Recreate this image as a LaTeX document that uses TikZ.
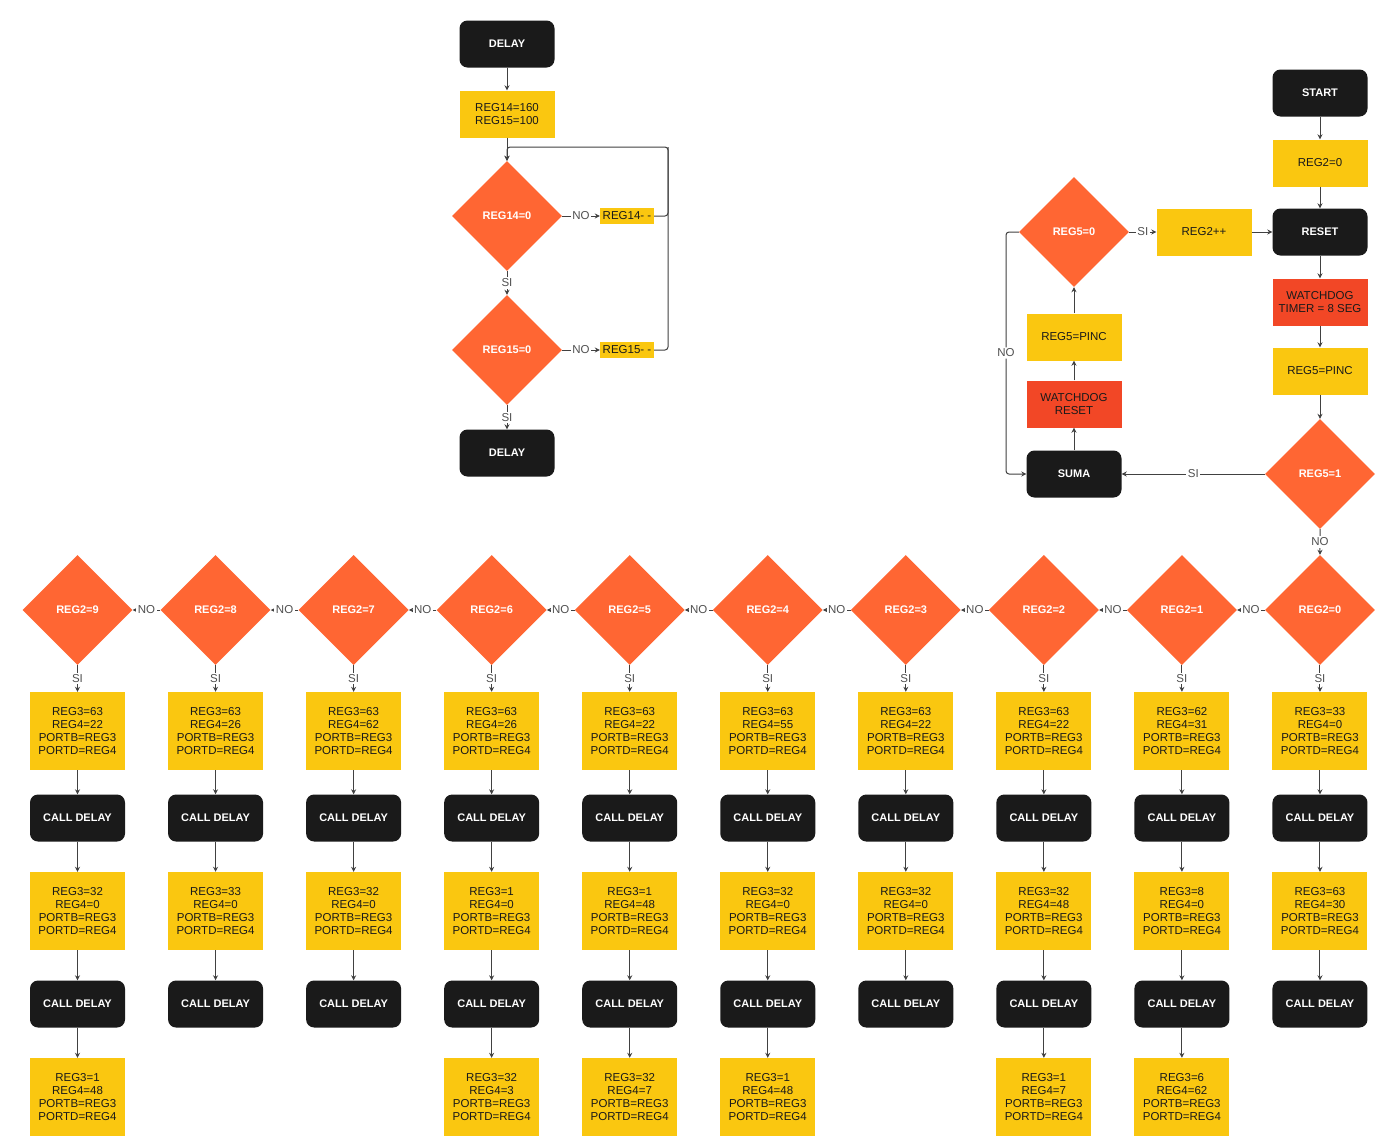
\documentclass[tikz,border=0pt]{standalone}
\usepackage{fontspec}
\setmainfont{Liberation Sans}
\usetikzlibrary{shapes.geometric,arrows.meta}
\definecolor{boxyellow}{HTML}{FAC710}
\definecolor{boxred}{HTML}{F24726}
\definecolor{deciorange}{HTML}{FF6633}
\definecolor{termblack}{HTML}{1A1A1A}
\definecolor{linegray}{HTML}{414141}
\definecolor{labelgray}{HTML}{505050}
\tikzset{
  txt/.style={font=\fontsize{11.5}{13}\selectfont},
  termbox/.style={rectangle, rounded corners=8pt, fill=termblack, text=white,
    font=\bfseries\fontsize{11}{13}\selectfont, minimum width=95pt, minimum height=47pt, inner sep=0pt},
  procbox/.style={rectangle, fill=boxyellow, text=termblack, txt, align=center,
    minimum width=95pt, minimum height=47pt, inner sep=0pt},
  alertbox/.style={rectangle, fill=boxred, text=termblack, txt, align=center,
    minimum width=95pt, minimum height=47pt, inner sep=0pt},
  smallbox/.style={rectangle, fill=boxyellow, text=termblack, txt,
    minimum width=54pt, minimum height=16pt, inner sep=1pt},
  decision/.style={diamond, fill=deciorange, text=white, font=\bfseries\fontsize{11}{13}\selectfont,
    minimum width=110pt, minimum height=110pt, inner sep=0pt},
  flow/.style={draw=linegray, line width=1pt, -{Stealth[length=5pt,width=5pt]}},
  plain/.style={draw=linegray, line width=1pt},
  lbl/.style={fill=white, text=labelgray, txt, inner sep=1.5pt},
}
\begin{document}
\begin{tikzpicture}[x=1pt, y=-1pt]
\useasboundingbox[fill=white] (0,0) rectangle (1388,1136);

% ---- DELAY subroutine ----
\node[termbox] (dstart) at (507,44) {DELAY};
\node[procbox, align=center] (dinit) at (507,114) {REG14=160\\REG15=100};
\node[decision] (d14) at (507,216) {REG14=0};
\node[smallbox] (r14) at (627,216) {REG14- -};
\node[decision] (d15) at (507,350) {REG15=0};
\node[smallbox] (r15) at (627,350) {REG15- -};
\node[termbox] (dend) at (507,453) {DELAY};
\coordinate (looptop) at (668,147);

\draw[flow] (dstart) -- (dinit);
\draw[flow] (dinit) -- (d14);
\draw[flow] (d14.east) -- node[lbl]{NO} (r14.west);
\draw[flow] (d15.east) -- node[lbl]{NO} (r15.west);
\draw[flow] (d14.south) -- node[lbl]{SI} (d15.north);
\draw[flow] (d15.south) -- node[lbl]{SI} (dend.north);
\draw[flow, rounded corners=3pt] (r14.east) -| (looptop) -| (d14.north);
\draw[plain, rounded corners=3pt] (r15.east) -| (looptop);

% ---- main program ----
\node[termbox] (start) at (1320,93) {START};
\node[procbox] (reg2z) at (1320,163) {REG2=0};
\node[termbox] (reset) at (1320,232) {RESET};
\node[alertbox] (wdt) at (1320,302) {WATCHDOG\\TIMER = 8 SEG};
\node[procbox] (pinc1) at (1320,371) {REG5=PINC};
\node[decision] (d51) at (1320,474) {REG5=1};
\node[termbox] (suma) at (1074,474) {SUMA};
\node[alertbox] (wdr) at (1074,404) {WATCHDOG\\RESET};
\node[procbox] (pinc2) at (1074,337) {REG5=PINC};
\node[decision] (d50) at (1074,232) {REG5=0};
\node[procbox] (inc) at (1204,232) {REG2++};
\coordinate (nobend) at (1006,232);

\draw[flow] (start) -- (reg2z);
\draw[flow] (reg2z) -- (reset);
\draw[flow] (reset) -- (wdt);
\draw[flow] (wdt) -- (pinc1);
\draw[flow] (pinc1) -- (d51.north);
\draw[flow] (d51.west) -- node[lbl]{SI} (suma.east);
\draw[flow] (suma) -- (wdr);
\draw[flow] (wdr) -- (pinc2);
\draw[flow] (pinc2) -- (d50.south);
\draw[flow] (d50.east) -- node[lbl]{SI} (inc.west);
\draw[flow] (inc) -- (reset);
\draw[flow, rounded corners=3pt] (d50.west) -- (nobend) |- node[lbl, pos=0.25]{NO} (suma.west);

% ---- REG2 selection columns ----
\foreach \c/\n/\aa/\ab/\ba/\bb in {
  0/9/63/22/32/0, 1/8/63/26/33/0, 2/7/63/62/32/0, 3/6/63/26/1/0, 4/5/63/22/1/48,
  5/4/63/55/32/0, 6/3/63/22/32/0, 7/2/63/22/32/48, 8/1/62/31/8/0, 9/0/33/0/63/30} {
  \pgfmathsetmacro{\cx}{77.5+138.05*\c}
  \node[decision] (d\n) at (\cx,610) {REG2=\n};
  \node[procbox, minimum height=78pt] (pa\n) at (\cx,731) {REG3=\aa\\REG4=\ab\\PORTB=REG3\\PORTD=REG4};
  \node[termbox] (ca\n) at (\cx,818) {CALL DELAY};
  \node[procbox, minimum height=78pt] (pb\n) at (\cx,911) {REG3=\ba\\REG4=\bb\\PORTB=REG3\\PORTD=REG4};
  \node[termbox] (cb\n) at (\cx,1004) {CALL DELAY};
  \draw[flow] (d\n.south) -- node[lbl]{SI} (pa\n.north);
  \draw[flow] (pa\n) -- (ca\n);
  \draw[flow] (ca\n) -- (pb\n);
  \draw[flow] (pb\n) -- (cb\n);
}
\foreach \c/\n/\ca/\cb in {0/9/1/48, 3/6/32/3, 4/5/32/7, 5/4/1/48, 7/2/1/7, 8/1/6/62} {
  \pgfmathsetmacro{\cx}{77.5+138.05*\c}
  \node[procbox, minimum height=78pt] (pc\n) at (\cx,1097) {REG3=\ca\\REG4=\cb\\PORTB=REG3\\PORTD=REG4};
  \draw[flow] (cb\n) -- (pc\n);
}
\foreach \n in {0,...,8} {
  \pgfmathtruncatemacro{\m}{\n+1}
  \draw[flow] (d\n.west) -- node[lbl]{NO} (d\m.east);
}
\draw[flow] (d51.south) -- node[lbl]{NO} (d0.north);
\end{tikzpicture}
\end{document}
